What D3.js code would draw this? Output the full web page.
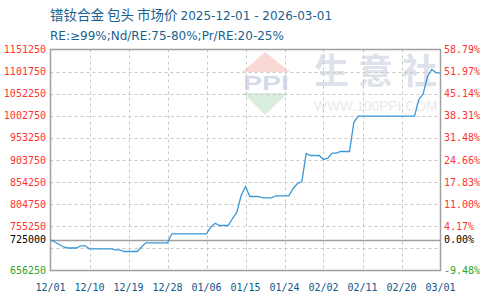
<!DOCTYPE html>
<html>
<head>
<meta charset="utf-8">
<script src="https://cdn.jsdelivr.net/npm/d3@7"></script>
<style>
  body { margin: 0; background: #fff; }
  svg { display: block; }
</style>
</head>
<body>
<div id="chart"></div>
<script>
// chart values
const titleName = "镨钕合金 包头 市场价";
const titleRange = "2025-12-01 - 2026-03-01";
const subText = "RE:≥99%;Nd/RE:75-80%;Pr/RE:20-25%";
const startDate = "2025-12-01";
const endDate = "2026-03-01";
const basePrice = 725000;
const yMin = 656250;
const yMax = 1151250;
const yStep = 49500;
const xTickLabels = ["12/01", "12/10", "12/19", "12/28", "01/06", "01/15", "01/24", "02/02", "02/11", "02/20", "03/01"];
const hiddenTicks = [705750]; // too close to the base price label
// one price per day, 12/01 .. 03/01
const prices = [
  725000, 720000, 714500, 709000, 706700, 706700, 706700, 711600, 711600, 704900,
  704900, 704900, 704900, 704900, 704900, 702600, 702600, 698800, 698800, 698800,
  698800, 708900, 718300, 718300, 718300, 718300, 718300, 718300, 738450, 738450,
  738450, 738450, 738450, 738450, 738450, 738450, 738450, 753700, 762200, 757000,
  757000, 757000, 772700, 786800, 824200, 844400, 822000, 822000, 822000, 819100,
  819100, 819100, 823600, 823600, 823600, 823600, 839900, 851100, 855600, 918300,
  913800, 913800, 913800, 904900, 907800, 919000, 919000, 922800, 922800, 922800,
  987700, 1002000, 1002000, 1002000, 1002000, 1002000, 1002000, 1002000, 1002000, 1002000,
  1002000, 1002000, 1002000, 1002000, 1002000, 1039300, 1052000, 1090800, 1106500, 1099000,
  1099000
];

const width = 490;
const height = 300;
const margin = { left: 50.5, right: 440.5, top: 49.5, bottom: 270.5 };

const parse = d3.timeParse("%Y-%m-%d");
const t0 = parse(startDate);
const t1 = parse(endDate);
const data = prices.map((v, i) => ({ date: d3.timeDay.offset(t0, i), value: v }));

const x = d3.scaleTime().domain([t0, t1]).range([margin.left, margin.right]);
const y = d3.scaleLinear().domain([yMin, yMax]).range([margin.bottom, margin.top]);

const svg = d3.select("#chart").append("svg")
  .attr("width", width)
  .attr("height", height);

// title
const title = svg.append("text")
  .attr("x", 50).attr("y", 20)
  .attr("fill", "#1b5f8f");
title.append("tspan")
  .attr("font-family", "'Noto Sans CJK SC', sans-serif")
  .attr("font-size", 13.5)
  .text(titleName + " ");
title.append("tspan")
  .attr("font-family", "'DejaVu Sans', sans-serif")
  .attr("font-size", 12)
  .text(titleRange);
svg.append("text")
  .attr("x", 50).attr("y", 39.5)
  .attr("font-family", "'DejaVu Sans', sans-serif")
  .attr("font-size", 12)
  .attr("fill", "#1b5f8f")
  .text(subText);

// watermark
const wm = svg.append("g");
wm.append("path")
  .attr("d", "M265,52 L290,72 L242,72 Z")
  .attr("fill", "#f9d9d6");
wm.append("path")
  .attr("d", "M243,93 L288,93 L265,115 Z")
  .attr("fill", "#d9eedd");
wm.append("text")
  .attr("x", 243).attr("y", 90)
  .attr("textLength", 46).attr("lengthAdjust", "spacingAndGlyphs")
  .attr("font-family", "'Liberation Sans', sans-serif")
  .attr("font-weight", "bold")
  .attr("font-size", 21)
  .attr("fill", "#d3dbea")
  .text("PPI");
wm.selectAll("text.wmc")
  .data(["生", "意", "社"])
  .join("text")
  .attr("class", "wmc")
  .attr("x", (d, i) => 314 + i * 44)
  .attr("y", 84)
  .attr("font-family", "'Noto Sans CJK SC', sans-serif")
  .attr("font-weight", "bold")
  .attr("font-size", 35)
  .attr("fill", "#dde1ea")
  .text(d => d);
wm.append("text")
  .attr("x", 314).attr("y", 111)
  .attr("font-family", "'Liberation Sans', sans-serif")
  .attr("font-size", 13.8)
  .attr("fill", "#ebebeb")
  .text("WWW.100PPI.COM");

// grid
const yTicks = d3.range(yMin, yMax + 1, yStep);
const xTicks = xTickLabels.map((d, i) => d3.timeDay.offset(t0, i * 9));

svg.append("g")
  .selectAll("line")
  .data(yTicks.slice(1, -1))
  .join("line")
  .attr("x1", margin.left).attr("x2", margin.right)
  .attr("y1", d => Math.round(y(d)) + 0.5).attr("y2", d => Math.round(y(d)) + 0.5)
  .attr("stroke", "#c8c8c8")
  .attr("stroke-dasharray", "3,3");

svg.append("g")
  .selectAll("line")
  .data(xTicks.slice(1, -1))
  .join("line")
  .attr("x1", d => Math.round(x(d)) + 0.5).attr("x2", d => Math.round(x(d)) + 0.5)
  .attr("y1", margin.top).attr("y2", margin.bottom)
  .attr("stroke", "#c8c8c8")
  .attr("stroke-dasharray", "3,3");

// base line
svg.append("line")
  .attr("x1", margin.left).attr("x2", margin.right)
  .attr("y1", Math.round(y(basePrice)) + 0.5).attr("y2", Math.round(y(basePrice)) + 0.5)
  .attr("stroke", "#a0a0a0")
  .attr("stroke-width", 1.5);

// frame
svg.append("rect")
  .attr("x", margin.left).attr("y", margin.top)
  .attr("width", margin.right - margin.left)
  .attr("height", margin.bottom - margin.top)
  .attr("fill", "none")
  .attr("stroke", "#a0a0a0")
  .attr("stroke-width", 1.5);

// price line
const line = d3.line()
  .x(d => x(d.date))
  .y(d => y(d.value));

svg.append("path")
  .datum(data)
  .attr("d", line)
  .attr("fill", "none")
  .attr("stroke", "#3a98d6")
  .attr("stroke-width", 1.3);

// axis labels
const labelTicks = yTicks.filter(d => !hiddenTicks.includes(d)).concat([basePrice]);
function tickColor(d) {
  if (d === basePrice) return "#000";
  if (d < basePrice) return "#2aa52a";
  return "#f33";
}
const mono = "'DejaVu Sans Mono', monospace";

svg.append("g")
  .selectAll("text")
  .data(labelTicks)
  .join("text")
  .attr("x", 46)
  .attr("y", d => y(d))
  .attr("dy", "0.35em")
  .attr("text-anchor", "end")
  .attr("font-family", mono)
  .attr("font-size", 10)
  .attr("fill", tickColor)
  .text(d => d);

svg.append("g")
  .selectAll("text")
  .data(labelTicks)
  .join("text")
  .attr("x", 444)
  .attr("y", d => y(d))
  .attr("dy", "0.35em")
  .attr("font-family", mono)
  .attr("font-size", 10)
  .attr("fill", tickColor)
  .text(d => ((d / basePrice - 1) * 100).toFixed(2) + "%");

svg.append("g")
  .selectAll("text")
  .data(xTicks)
  .join("text")
  .attr("x", d => x(d))
  .attr("y", 291)
  .attr("text-anchor", "middle")
  .attr("font-family", mono)
  .attr("font-size", 10)
  .attr("fill", "#10578a")
  .text((d, i) => xTickLabels[i]);
</script>
</body>
</html>
